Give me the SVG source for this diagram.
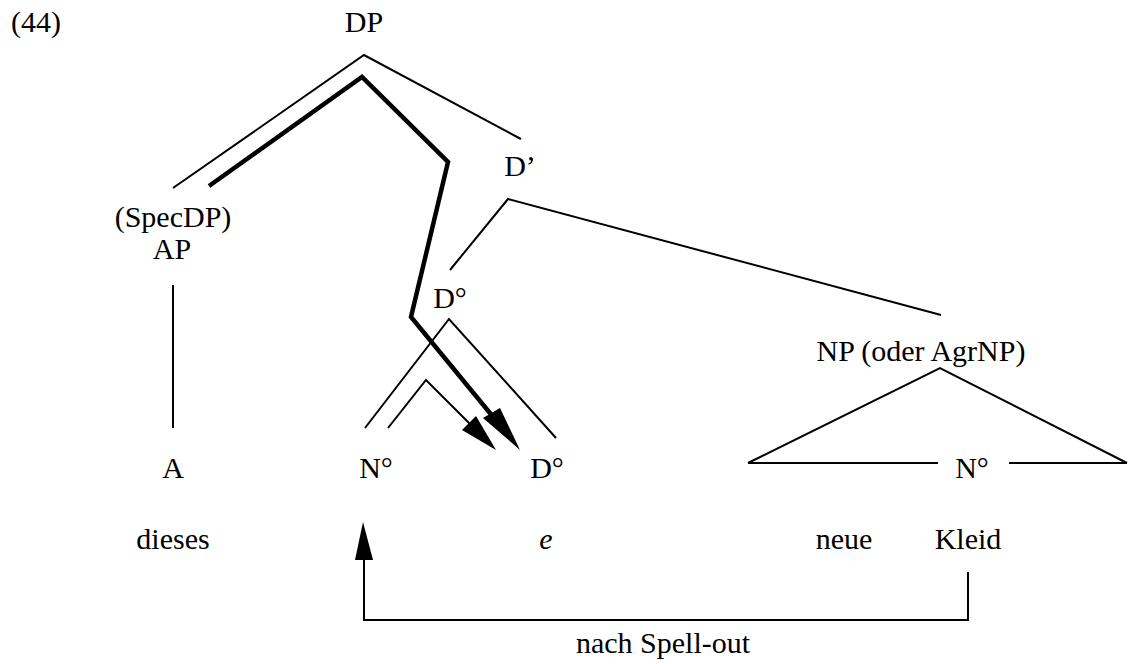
<svg xmlns="http://www.w3.org/2000/svg" width="1128" height="664" viewBox="0 0 1128 664">
  <style>
    text { font-family: "Liberation Serif", "Times New Roman", serif; font-size: 30px; fill: #000; }
    .c { text-anchor: middle; }
    .thin { fill: none; stroke: #000; stroke-width: 2; stroke-linejoin: miter; }
    .thick { fill: none; stroke: #000; stroke-width: 4.5; stroke-linejoin: miter; }
    .head { fill: #000; stroke: none; }
  </style>
  <rect width="1128" height="664" fill="#fff"/>

  <!-- example number -->
  <text x="11" y="32">(44)</text>

  <!-- tree nodes -->
  <g id="n-dp"><text class="c" x="364" y="32">DP</text></g>
  <g id="n-dbar"><text class="c" x="520" y="176">D’</text></g>
  <g id="n-specdp"><text class="c" x="173" y="227">(SpecDP)</text><text class="c" x="172" y="259">AP</text></g>
  <g id="n-d0-high"><text class="c" x="450" y="308">D°</text></g>
  <g id="n-np"><text class="c" x="921" y="361">NP (oder AgrNP)</text></g>
  <g id="n-a"><text class="c" x="173" y="478">A</text></g>
  <g id="n-n0"><text class="c" x="376" y="478">N°</text></g>
  <g id="n-d0-low"><text class="c" x="547" y="478">D°</text></g>
  <g id="n-n0-np"><text class="c" x="972" y="478">N°</text></g>

  <!-- words -->
  <g id="w-dieses"><text class="c" x="173" y="549">dieses</text></g>
  <g id="w-e"><text class="c" x="546" y="549" font-style="italic">e</text></g>
  <g id="w-neue"><text class="c" x="844" y="549">neue</text></g>
  <g id="w-kleid"><text class="c" x="968" y="549">Kleid</text></g>
  <g id="l-spellout"><text class="c" x="663" y="653">nach Spell-out</text></g>

  <g id="connectors">
    <!-- DP branches -->
    <polyline class="thin" points="173,188 364,55 521,139"/>
    <!-- D' branches -->
    <polyline class="thin" points="450,270 508,199 941,315"/>
    <!-- AP to A -->
    <line class="thin" x1="173" y1="285" x2="173" y2="428"/>
    <!-- D° branches -->
    <polyline class="thin" points="365,428 449,319 556,438"/>
    <!-- NP triangle -->
    <polyline class="thin" points="748,463 940,368 1127,463"/>
    <line class="thin" x1="748" y1="463" x2="938" y2="463"/>
    <line class="thin" x1="1009" y1="463" x2="1127" y2="463"/>

    <!-- movement path (thick) -->
    <polyline class="thick" points="209,186 362,77 448,162 411,317 494,418"/>
    <polygon class="head" points="520,450 483,418 500,408"/>

    <!-- N° movement (thin) -->
    <polyline class="thin" points="388,428 426,380 470,424"/>
    <polygon class="head" points="496,450 462,430 476,416"/>

    <!-- after spell-out -->
    <polyline class="thin" points="968,572 968,620 364,620 364,558"/>
    <polygon class="head" points="363,522 355,560 373,560"/>
  </g>
</svg>
